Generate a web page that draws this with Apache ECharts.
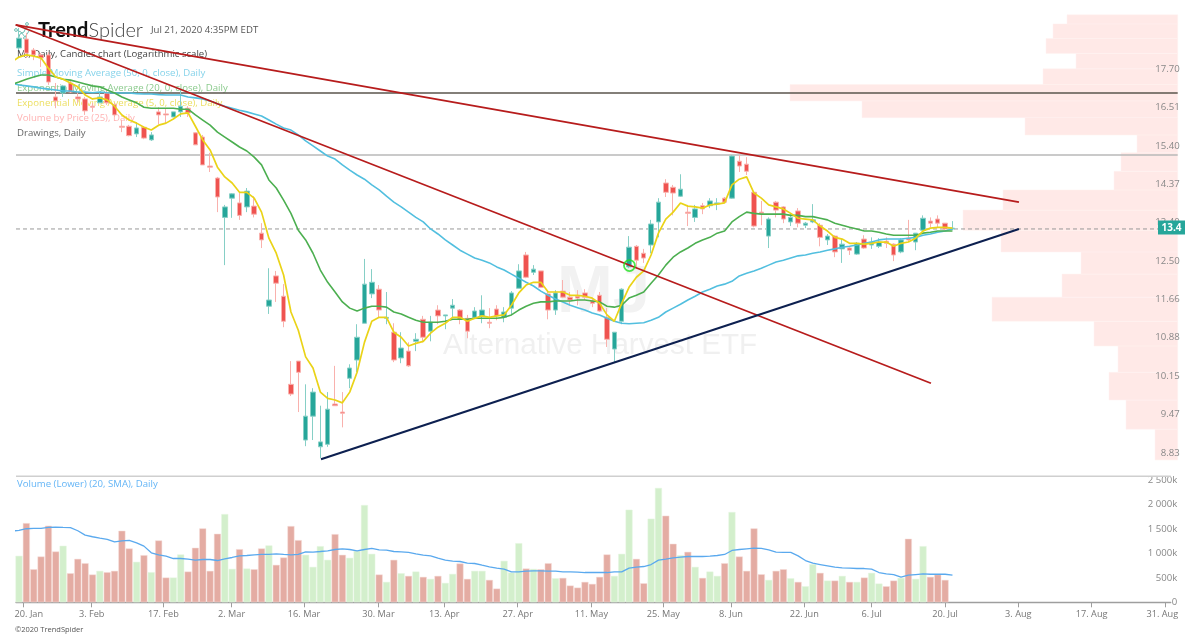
<!DOCTYPE html>
<html>
<head>
<meta charset="utf-8">
<style>html,body{margin:0;padding:0;background:#fff}#c{width:1200px;height:637px}</style>
<script src="https://cdn.jsdelivr.net/npm/echarts@6/dist/echarts.min.js"></script>
</head>
<body>
<div id="c"></div>
<script>
const opens=[18.39,18.69,18.32,18.16,18.16,16.83,16.95,17.26,16.83,16.77,16.55,16.65,16.95,16.59,15.96,15.96,15.74,15.93,15.57,16.38,16.32,16.23,16.38,16.49,15.77,15.65,14.85,14.53,13.53,14.01,13.89,13.79,13.81,13.15,11.52,12.17,11.73,10.00,10.43,9.04,9.44,8.93,8.97,9.65,9.51,10.11,10.45,11.17,11.78,11.88,11.27,10.99,10.49,10.62,10.81,11.25,11.01,11.44,11.32,11.48,11.44,11.27,11.29,11.32,11.19,11.46,11.29,11.48,11.90,12.64,12.25,12.28,11.78,11.44,11.84,11.71,11.73,11.80,11.63,11.75,11.29,10.66,11.21,12.37,12.84,12.68,12.87,13.42,14.40,14.29,14.06,13.66,13.53,13.82,13.82,13.86,14.01,14.01,14.98,14.90,14.16,13.66,13.08,13.91,13.79,13.42,13.69,13.34,13.42,13.34,12.99,13.08,12.78,12.80,12.66,13.01,12.87,12.84,12.96,12.89,12.71,13.03,12.94,13.22,13.44,13.49,13.39,13.25];
const closes=[18.72,18.22,18.16,18.06,17.29,16.71,17.17,16.98,16.77,16.41,16.52,16.83,16.65,16.29,15.93,15.69,15.91,15.62,15.71,16.29,16.29,16.38,16.55,16.35,15.43,14.88,14.82,14.04,13.79,14.12,13.58,14.19,13.61,12.99,11.65,12.01,11.21,9.825,10.22,9.44,9.86,9.01,9.56,9.62,9.49,10.30,10.89,11.99,12.03,11.44,11.29,10.45,10.68,10.34,10.85,10.89,11.19,11.32,11.34,11.54,11.25,11.01,11.42,11.44,11.17,11.32,11.40,11.80,12.28,12.14,12.32,11.92,11.44,11.80,11.71,11.65,11.69,11.71,11.58,11.42,10.85,10.99,11.88,12.82,12.52,12.57,13.37,13.91,14.16,14.14,14.24,13.63,13.74,13.74,13.94,13.89,13.91,15.12,14.85,14.71,13.32,13.63,13.49,13.71,13.49,13.53,13.39,13.39,13.47,13.05,13.08,12.71,12.89,12.75,12.91,12.80,12.94,12.94,12.91,12.64,12.99,12.99,13.15,13.51,13.39,13.39,13.25,13.27];
const lows=[18.32,18.06,17.99,17.77,17.20,16.49,16.83,16.95,16.65,16.29,16.38,16.65,16.59,16.23,15.79,15.67,15.65,15.59,15.54,16.02,16.05,16.23,16.23,16.23,15.43,14.88,14.69,13.66,12.41,13.52,13.47,13.66,13.53,12.80,11.36,11.61,11.09,9.79,9.51,8.94,9.04,8.75,8.93,9.62,9.25,9.93,10.22,11.17,11.69,11.29,11.15,10.41,10.39,10.32,10.62,10.79,10.81,11.15,11.05,11.27,11.15,10.87,11.27,11.17,11.07,11.23,11.19,11.34,11.90,12.12,12.19,11.92,11.25,11.34,11.69,11.54,11.54,11.65,11.50,11.40,10.70,10.41,11.15,12.34,12.34,12.46,12.68,13.05,14.04,13.58,14.04,13.32,13.42,13.61,13.76,13.71,13.89,13.99,14.69,14.61,13.29,13.34,12.80,13.53,13.39,13.32,13.29,13.27,13.39,12.84,12.87,12.59,12.46,12.64,12.64,12.78,12.78,12.80,12.80,12.50,12.68,12.94,12.75,13.20,13.29,13.29,13.22,13.22];
const highs=[19.07,18.90,18.39,18.22,18.25,17.26,17.20,17.35,16.98,16.83,16.65,16.98,17.04,16.65,16.14,16.00,16.08,15.96,15.79,16.52,16.47,16.38,17.04,16.55,15.79,15.71,15.21,14.56,13.84,14.14,14.14,14.27,14.06,13.39,12.34,12.28,11.99,10.43,10.43,10.00,9.93,9.62,9.86,10.34,9.86,10.37,11.15,12.55,12.32,11.97,11.82,11.17,10.99,10.79,10.97,11.32,11.32,11.54,11.34,11.67,11.46,11.34,11.50,11.75,11.48,11.54,11.50,11.84,12.43,12.71,12.41,12.28,11.82,11.86,12.08,11.82,11.86,11.88,11.69,11.82,11.48,10.99,11.90,13.08,12.87,12.78,13.47,14.01,14.50,14.35,14.63,13.84,13.84,13.89,14.01,14.01,14.04,15.15,15.15,15.09,14.16,13.94,13.53,13.94,13.81,13.63,13.76,13.42,13.86,13.39,13.13,13.10,13.01,12.82,12.94,13.10,13.05,13.03,13.05,12.91,13.03,13.47,13.15,13.58,13.53,13.58,13.39,13.44];
const lineFirstIndex=-1;
const ema5=[17.93,18.09,18.16,18.12,18.06,17.73,17.45,17.38,17.26,17.14,16.89,16.77,16.80,16.74,16.55,16.29,16.14,16.05,15.93,15.85,15.99,16.05,16.17,16.32,16.35,15.96,15.57,15.29,14.82,14.56,14.40,14.16,14.16,14.01,13.66,13.03,12.68,12.19,11.40,11.03,10.51,10.30,9.86,9.75,9.72,9.67,9.86,10.22,10.79,11.21,11.29,11.29,10.99,10.89,10.72,10.77,10.81,10.97,11.09,11.17,11.29,11.29,11.21,11.27,11.32,11.29,11.32,11.34,11.54,11.80,11.97,12.03,12.03,11.82,11.82,11.82,11.75,11.75,11.73,11.69,11.58,11.34,11.21,11.58,11.92,12.14,12.28,12.64,13.15,13.49,13.66,13.89,13.81,13.79,13.76,13.84,13.86,13.89,14.35,14.50,14.56,14.14,14.01,13.84,13.79,13.74,13.63,13.51,13.49,13.47,13.32,13.20,13.05,13.01,12.91,12.91,12.89,12.91,12.94,12.94,12.84,12.91,12.94,13.03,13.20,13.27,13.29,13.29,13.27];
const ema20=[17.21,17.29,17.38,17.45,17.51,17.51,17.45,17.38,17.35,17.29,17.23,17.17,17.14,17.04,16.95,16.83,16.74,16.65,16.52,16.49,16.49,16.49,16.49,16.46,16.46,16.29,16.14,15.99,15.79,15.65,15.51,15.37,15.26,15.09,14.88,14.48,14.27,13.96,13.63,13.22,12.99,12.68,12.30,12.03,11.82,11.61,11.48,11.42,11.48,11.52,11.52,11.50,11.40,11.36,11.29,11.23,11.19,11.19,11.19,11.21,11.25,11.25,11.25,11.27,11.27,11.27,11.27,11.29,11.34,11.44,11.52,11.58,11.61,11.61,11.63,11.63,11.63,11.65,11.65,11.63,11.61,11.52,11.50,11.54,11.69,11.75,11.82,12.01,12.19,12.41,12.59,12.71,12.80,12.91,12.99,13.05,13.15,13.20,13.42,13.55,13.66,13.63,13.61,13.61,13.61,13.61,13.58,13.58,13.55,13.55,13.51,13.47,13.39,13.34,13.29,13.25,13.20,13.20,13.17,13.13,13.10,13.10,13.10,13.10,13.15,13.17,13.20,13.20,13.20];
const sma50=[17.26,17.20,17.17,17.14,17.10,17.07,17.04,17.01,17.01,16.98,16.98,16.96,16.98,16.96,16.95,16.95,16.95,16.93,16.92,16.92,16.90,16.89,16.89,16.89,16.83,16.80,16.77,16.71,16.62,16.55,16.49,16.43,16.38,16.32,16.26,16.14,16.02,15.91,15.85,15.71,15.54,15.40,15.26,15.12,15.04,14.88,14.74,14.61,14.50,14.35,14.22,14.06,13.91,13.79,13.66,13.53,13.42,13.25,13.13,12.99,12.87,12.75,12.66,12.57,12.52,12.46,12.37,12.30,12.21,12.12,12.03,11.95,11.84,11.75,11.67,11.61,11.54,11.49,11.44,11.38,11.34,11.27,11.21,11.17,11.16,11.17,11.18,11.23,11.29,11.40,11.48,11.56,11.65,11.73,11.82,11.88,11.95,11.99,12.05,12.17,12.23,12.28,12.34,12.41,12.48,12.52,12.57,12.62,12.64,12.68,12.71,12.75,12.78,12.82,12.84,12.87,12.91,12.94,12.99,13.01,13.01,13.01,13.03,13.05,13.10,13.13,13.17,13.20,13.25];
const volumes=[952,1623,678,938,1569,1041,1158,596,890,801,569,644,617,644,1466,1103,829,966,617,1267,507,507,980,630,1117,1514,644,1404,1808,685,1089,692,678,1103,1165,767,918,1562,1274,973,726,1151,870,1397,973,911,1055,1993,993,569,418,870,596,541,630,521,480,541,397,582,795,480,644,644,459,281,849,610,1212,692,685,678,801,493,500,343,301,418,377,521,980,541,993,1897,890,390,1713,2343,1774,1199,966,1034,726,500,630,541,801,1850,938,644,1514,575,459,644,678,493,418,329,781,603,445,445,541,418,418,507,603,384,329,445,500,1302,480,1151,521,569,459];
const volumeSma=[1459,1473,1507,1514,1514,1534,1541,1534,1528,1466,1377,1343,1315,1288,1240,1260,1267,1219,1151,1014,973,945,897,897,884,863,877,877,856,890,918,952,959,973,980,980,993,980,973,980,1034,1028,1041,1055,1082,1096,1082,1055,1082,1103,1075,1069,1041,1034,1021,993,966,952,904,863,843,836,801,795,760,726,699,678,623,623,637,644,644,637,637,623,623,617,610,610,610,610,623,623,699,719,733,774,863,884,911,925,938,938,938,945,959,980,1062,1082,1096,1110,1103,1075,1028,1021,1021,952,856,801,774,747,719,706,699,692,692,678,610,582,569,514,555,569,582,575,575,575,555];
const vbpEdges=[8.72,9.22,9.72,10.22,10.72,11.21,11.71,12.21,12.71,13.22,13.71,14.22,14.71,15.21,15.71,16.21,16.71,17.21,17.71,18.21,18.71,19.21,19.53];
const vbpValues=[22.7,51.7,68.7,59.7,83.7,185.7,115.7,96.7,176.7,214.7,174.7,63.7,56.7,40.7,152.7,315.7,387.7,134.7,101.7,131.7,124.7,110.7];
const priceTicks=[8.83,9.47,10.15,10.88,11.66,12.50,13.40,14.37,15.40,16.51,17.70];
const volumeTicks=[0,500,1000,1500,2000,2500];
const volumeTickLabels=['0','500k','1 000k','1 500k','2 000k','2 500k'];
const dateSlots=[0.59,9.89,19.64,28.93,38.78,48.9,57.87,67.85,77.87,87.66,96.87,106.85,116,125.99,135.96,145.94,155.96];
const dateLabels=['20. Jan','3. Feb','17. Feb','2. Mar','16. Mar','30. Mar','13. Apr','27. Apr','11. May','25. May','8. Jun','22. Jun','6. Jul','20. Jul','3. Aug','17. Aug','31. Aug'];
const trendUpper=[[-0.45,19.18],[136.05,13.91]];
const trendLower=[[-0.45,19.18],[124.08,10.02]];
const trendSupport=[[41.09,8.73],[136.05,13.25]];
const levelDark=16.95, levelLight=15.15, levelLast=13.25;
const signalPoint=[83.06,12.40];
const lastPriceLabel='13.4';

const FONT='"Open Sans"';
const X_MIN=-0.408, X_MAX_TOP=157.65, X_MAX_BOTTOM=156.69;
const indexed=a=>a.map((v,i)=>[i+lineFirstIndex,v]);
const lineSeries=(name,data,color,width,extra)=>Object.assign({name,type:'line',xAxisIndex:0,yAxisIndex:0,data,symbol:'none',silent:true,animation:false,smooth:false,lineStyle:{color,width}},extra||{});

const chart=echarts.init(document.getElementById('c'),null,{renderer:'canvas'});
const legend=[
 ['MJ, Daily, Candles chart (Logarithmic scale)',54,'#444'],
 ['Simple Moving Average (50, 0, close), Daily',73,'#86d3ea'],
 ['Exponential Moving Average (20, 0, close), Daily',88,'#8ccb8e'],
 ['Exponential Moving Average (5, 0, close), Daily',103,'#ecdf62'],
 ['Volume by Price (25), Daily',118,'#ffb3b3'],
 ['Drawings, Daily',133,'#666']
];
const txt=(text,x,y,fontSize,fill,extra)=>({type:'text',x,y,z:1,silent:true,style:Object.assign({text,fontSize,fill,fontFamily:FONT,verticalAlign:'middle'},extra||{})});
const graphicEls=[
 txt('MJ',557,294,67,'#f2f2f2',{fontWeight:'bold',fontFamily:'"Liberation Sans"'}),
 txt('Alternative Harvest ETF',443,346,29.6,'#f0f0f0',{fontFamily:'"Liberation Sans"'}),
 {type:'text',x:38,y:31,z:1,silent:true,style:{text:'{a|Trend}{b|Spider}',verticalAlign:'middle',rich:{a:{fontFamily:'Lato',fontWeight:'bold',fontSize:20,fill:'#111'},b:{fontFamily:'Lato',fontWeight:300,fontSize:20,fill:'#444'}}}},
 txt('Jul 21, 2020 4:35PM EDT',151,30,9.6,'#555'),
 ...legend.map(l=>txt(l[0],17,l[1],9.6,l[2])),
 txt('Volume (Lower) (20, SMA), Daily',17,484.5,9.6,'#64b5f6'),
 txt('\u00a92020 TrendSpider',15,630,7.5,'#555'),
 {type:'line',z:1,silent:true,shape:{x1:16,y1:476.2,x2:1170.7,y2:476.2},style:{stroke:'#cfcfcf',lineWidth:1.6}},
 {type:'polyline',z:3,silent:true,shape:{points:[[16,30],[21,32],[25,37],[29,31]]},style:{stroke:'#6fbfb4',fill:'none',lineWidth:1}},
 {type:'polyline',z:3,silent:true,shape:{points:[[18,40],[20,34],[24,32],[27,25]]},style:{stroke:'#6fbfb4',fill:'none',lineWidth:1}},
 {type:'circle',z:3,silent:true,shape:{cx:16,cy:30,r:1.4},style:{stroke:'#6fbfb4',fill:'#fff'}},
 {type:'circle',z:3,silent:true,shape:{cx:18,cy:41,r:1.4},style:{stroke:'#6fbfb4',fill:'#fff'}},
 {type:'circle',z:3,silent:true,shape:{cx:27,cy:24,r:1.4},style:{stroke:'#6fbfb4',fill:'#fff'}},
 {type:'circle',z:3,silent:true,shape:{cx:25,cy:38,r:1.4},style:{stroke:'#6fbfb4',fill:'#fff'}},
 {type:'rect',z:30,silent:true,shape:{x:1158,y:220.5,width:27,height:14},style:{fill:'#26a69a'}},
 {type:'text',z:31,silent:true,x:1171.5,y:227.7,style:{text:lastPriceLabel,align:'center',verticalAlign:'middle',fontSize:10,fontWeight:'bold',fontFamily:FONT,fill:'#fff'}}
];

const option={
 animation:false,
 backgroundColor:'#fff',
 grid:[
  {left:16,top:0,width:1161.7,height:476},
  {left:16,top:477,width:1154.7,height:125.3}
 ],
 xAxis:[
  {type:'value',gridIndex:0,min:X_MIN,max:X_MAX_TOP,show:false,splitLine:{show:false}},
  {type:'value',gridIndex:1,min:X_MIN,max:X_MAX_BOTTOM,splitLine:{show:false},
   axisLine:{show:true,onZero:false,lineStyle:{color:'#9e9e9e',width:1.4}},
   axisTick:{show:true,length:5,lineStyle:{color:'#9e9e9e'},customValues:dateSlots},
   axisLabel:{show:true,customValues:dateSlots,margin:8,color:'#777',fontSize:9.2,fontFamily:FONT,hideOverlap:false,showMinLabel:true,showMaxLabel:true,
     formatter:v=>{const i=dateSlots.indexOf(v);const s=i>=0?dateLabels[i]:'';return i===0?'{f|'+s+'}':i===dateSlots.length-1?'{l|'+s+'}':s;},
     rich:{f:{padding:[0,0,0,11],color:'#777',fontSize:9.2,fontFamily:FONT},l:{padding:[0,6,0,0],color:'#777',fontSize:9.2,fontFamily:FONT}}}},
  {type:'value',gridIndex:0,inverse:true,min:0,max:1161.7,show:false,splitLine:{show:false}}
 ],
 yAxis:[
  {type:'log',gridIndex:0,position:'right',min:8.47,max:20.06,z:12,splitLine:{show:false},axisLine:{show:false},axisTick:{show:false},
   axisLabel:{inside:true,margin:-2,color:'#888',fontSize:9.6,fontFamily:FONT,customValues:priceTicks,formatter:v=>(+v).toFixed(2)}},
  {type:'value',gridIndex:1,position:'right',min:0,max:2567,splitLine:{show:false},axisLine:{show:false},
   axisTick:{show:false},
   axisLabel:{align:'right',margin:6.5,color:'#888',fontSize:9.6,fontFamily:FONT,customValues:volumeTicks,formatter:v=>volumeTickLabels[volumeTicks.indexOf(v)]}}
 ],
 graphic:graphicEls,
 series:[
  {name:'Volume by Price',type:'custom',xAxisIndex:2,yAxisIndex:0,silent:true,z:1,clip:false,
   data:vbpValues.map((v,i)=>[v,vbpEdges[i],vbpEdges[i+1]]),encode:{x:0,y:[1,2]},
   renderItem:(p,api)=>{
     const a=api.coord([api.value(0),api.value(2)]),b=api.coord([0,api.value(1)]);
     return {type:'rect',shape:{x:a[0],y:a[1],width:b[0]-a[0],height:b[1]-a[1]},style:{fill:'#ffe9e7',stroke:'#fff2f0',lineWidth:0.5}};
   }},
  lineSeries('Level dark',[[X_MIN,levelDark],[X_MAX_TOP,levelDark]],'#5a544c',1.6,{z:3}),
  lineSeries('Level light',[[X_MIN,levelLight],[X_MAX_TOP,levelLight]],'#b9b9b9',1.3,{z:3}),
  lineSeries('Last price',[[X_MIN,levelLast],[X_MAX_TOP,levelLast]],'#999',1,{z:3,lineStyle:{color:'#999',width:1,type:[4,3]}}),
  {name:'MJ',type:'candlestick',xAxisIndex:0,yAxisIndex:0,barWidth:5,silent:true,z:4,
   data:opens.map((o,i)=>[i,o,closes[i],lows[i],highs[i]]),
   itemStyle:{color:'#26a69a',color0:'#ef5350',borderColor:'#86cfc6',borderColor0:'#f9b1ad',borderWidth:1}},
  lineSeries('SMA 50',indexed(sma50),'#52bfdf',1.6,{z:5}),
  lineSeries('EMA 20',indexed(ema20),'#4caf50',1.6,{z:6}),
  lineSeries('EMA 5',indexed(ema5),'#ead318',1.7,{z:7}),
  lineSeries('Trend upper',trendUpper,'#b71c1c',1.8,{z:8}),
  lineSeries('Trend lower',trendLower,'#b71c1c',1.8,{z:8}),
  lineSeries('Support',trendSupport,'#0d2050',2,{z:8}),
  {name:'Signal',type:'scatter',xAxisIndex:0,yAxisIndex:0,silent:true,z:9,data:[signalPoint],symbol:'circle',symbolSize:11,itemStyle:{color:'rgba(0,0,0,0)',borderColor:'#1fe01f',borderWidth:1.8}},
  {name:'Volume',type:'bar',xAxisIndex:1,yAxisIndex:1,barWidth:7,silent:true,z:2,
   data:volumes.map((v,i)=>{const up=closes[i]>=opens[i];return {value:[i,v],itemStyle:{color:up?'#d3efcc':'#e4aca3',borderColor:up?'#e6f6e2':'#f7dfda',borderWidth:0.5}};})},
  {name:'Volume SMA',type:'line',xAxisIndex:1,yAxisIndex:1,data:indexed(volumeSma),symbol:'none',silent:true,z:3,lineStyle:{color:'#5aa9ee',width:1.3}}
 ]
};
chart.setOption(option);
</script>
</body>
</html>
